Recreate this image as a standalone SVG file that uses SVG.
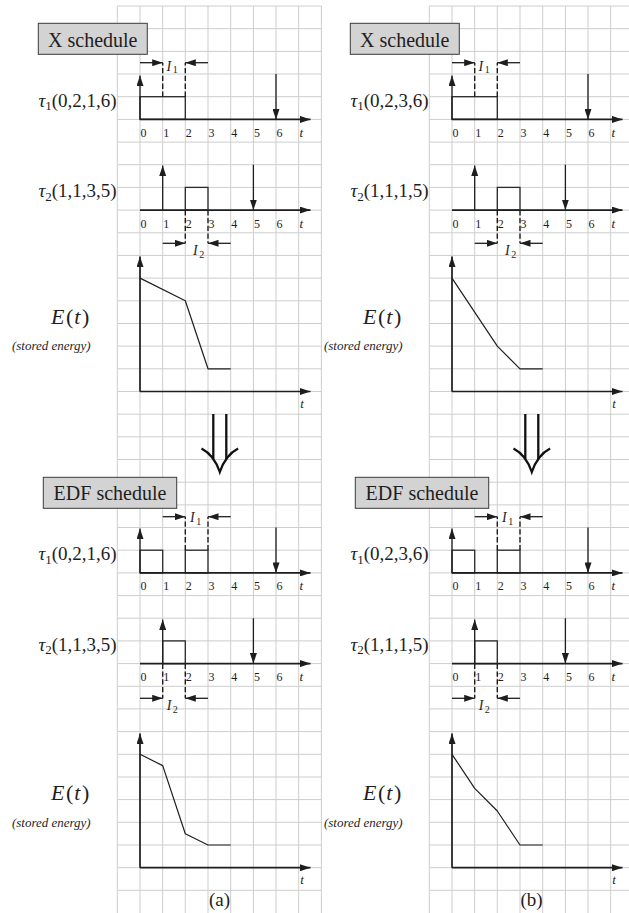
<svg xmlns="http://www.w3.org/2000/svg" width="629" height="913" viewBox="0 0 629 913">
<style>
  .grid { stroke: #cdcdcd; stroke-width: 1; fill: none; }
  .ax { stroke: #1e1e1e; stroke-width: 1.7; fill: none; }
  .ar { stroke: #1e1e1e; stroke-width: 1.3; fill: none; }
  .job { stroke: #2a2a2a; stroke-width: 1.3; fill: none; }
  .dash { stroke: #1e1e1e; stroke-width: 1.4; fill: none; stroke-dasharray: 5.3 2.5; }
  .curve { stroke: #1e1e1e; stroke-width: 1.2; fill: none; stroke-linejoin: round; }
  .box { fill: #d3d3d3; stroke: #3a3a3a; stroke-width: 1; }
  .dbl { stroke: #111; stroke-width: 2.3; fill: none; }
  text { font-family: "Liberation Serif", "Times New Roman", serif; fill: #1e1e1e; }
  .title { font-size: 20px; }
  .lab { font-size: 19px; }
  .sub { font-size: 13px; }
  .num { font-size: 12px; }
  .tt { font-size: 13px; font-style: italic; }
  .ilab { font-size: 14px; font-style: italic; }
  .isub { font-size: 10px; font-style: normal; }
  .elab { font-size: 22px; }
  .it { font-style: italic; }
  .se { font-size: 13px; font-style: italic; }
  .cap { font-size: 19px; }
</style>
<defs>
  <marker id="ah" markerUnits="userSpaceOnUse" markerWidth="11" markerHeight="7" refX="10.5" refY="3.5" orient="auto">
    <path d="M0,0 L10.5,3.5 L0,7 Z" fill="#1e1e1e"/>
  </marker>
</defs>
<rect x="0" y="0" width="629" height="913" fill="#ffffff"/>

<g id="grid-a" class="grid">
  <path d="M117.3,6 V913 M140,6 V913 M162.7,6 V913 M185.3,6 V913 M208,6 V913 M230.7,6 V913 M253.4,6 V913 M276,6 V913 M298.7,6 V913 M321.4,6 V913"/>
  <path d="M117.3,6 H321.4 M117.3,28.7 H321.4 M117.3,51.4 H321.4 M117.3,74 H321.4 M117.3,96.7 H321.4 M117.3,119.4 H321.4 M117.3,142.1 H321.4 M117.3,164.7 H321.4 M117.3,187.4 H321.4 M117.3,210.1 H321.4 M117.3,232.8 H321.4 M117.3,255.4 H321.4 M117.3,278.1 H321.4 M117.3,300.8 H321.4 M117.3,323.5 H321.4 M117.3,346.1 H321.4 M117.3,368.8 H321.4 M117.3,391.5 H321.4 M117.3,414.2 H321.4 M117.3,436.8 H321.4 M117.3,459.5 H321.4 M117.3,482.2 H321.4 M117.3,504.9 H321.4 M117.3,527.5 H321.4 M117.3,550.2 H321.4 M117.3,572.9 H321.4 M117.3,595.6 H321.4 M117.3,618.2 H321.4 M117.3,640.9 H321.4 M117.3,663.6 H321.4 M117.3,686.3 H321.4 M117.3,708.9 H321.4 M117.3,731.6 H321.4 M117.3,754.3 H321.4 M117.3,777 H321.4 M117.3,799.6 H321.4 M117.3,822.3 H321.4 M117.3,845 H321.4 M117.3,867.7 H321.4 M117.3,890.3 H321.4"/>
</g>
<g id="grid-b" class="grid">
  <path d="M429.3,6 V913 M452,6 V913 M474.7,6 V913 M497.3,6 V913 M520,6 V913 M542.7,6 V913 M565.4,6 V913 M588,6 V913 M610.7,6 V913"/>
  <path d="M429.3,6 H629 M429.3,28.7 H629 M429.3,51.4 H629 M429.3,74 H629 M429.3,96.7 H629 M429.3,119.4 H629 M429.3,142.1 H629 M429.3,164.7 H629 M429.3,187.4 H629 M429.3,210.1 H629 M429.3,232.8 H629 M429.3,255.4 H629 M429.3,278.1 H629 M429.3,300.8 H629 M429.3,323.5 H629 M429.3,346.1 H629 M429.3,368.8 H629 M429.3,391.5 H629 M429.3,414.2 H629 M429.3,436.8 H629 M429.3,459.5 H629 M429.3,482.2 H629 M429.3,504.9 H629 M429.3,527.5 H629 M429.3,550.2 H629 M429.3,572.9 H629 M429.3,595.6 H629 M429.3,618.2 H629 M429.3,640.9 H629 M429.3,663.6 H629 M429.3,686.3 H629 M429.3,708.9 H629 M429.3,731.6 H629 M429.3,754.3 H629 M429.3,777 H629 M429.3,799.6 H629 M429.3,822.3 H629 M429.3,845 H629 M429.3,867.7 H629 M429.3,890.3 H629"/>
</g>

<!-- Panel (a) -->
<g id="panel-a">
  <g id="a-x-label">
    <rect class="box" x="38.3" y="23.3" width="109" height="31"/>
    <text class="title" x="92.8" y="46.5" text-anchor="middle">X schedule</text>
  </g>
  <g id="a-x-tau1">
    <text class="lab" x="116.7" y="106.7" text-anchor="end"><tspan class="it">τ</tspan><tspan class="sub" dy="3.5">1</tspan><tspan dy="-3.5">(0,2,1,6)</tspan></text>
    <rect class="job" x="140" y="96.7" width="45.3" height="22.7"/>
    <path class="dash" d="M162.7,96.7 V62.7 M185.3,96.7 V62.7"/>
    <path class="ar" d="M140,62.7 H162.7" marker-end="url(#ah)"/>
    <path class="ar" d="M208,62.7 H185.3" marker-end="url(#ah)"/>
    <text class="ilab" x="166.5" y="70.7">I<tspan class="isub" dx="1.5" dy="2.5">1</tspan></text>
    <path class="ax" d="M140,119.4 H310.5" marker-end="url(#ah)"/>
    <path class="ar" d="M140,119.4 V75.5" marker-end="url(#ah)"/>
    <path class="ar" d="M276,74 V119.4" marker-end="url(#ah)"/>
    <text class="num" x="143.5 166.2 188.8 211.5 234.2 256.9 279.5" y="136.8" text-anchor="middle">0123456</text>
    <text class="tt" x="301.2" y="136.8" text-anchor="middle">t</text>
  </g>
  <g id="a-x-tau2">
    <text class="lab" x="116.7" y="197" text-anchor="end"><tspan class="it">τ</tspan><tspan class="sub" dy="3.5">2</tspan><tspan dy="-3.5">(1,1,3,5)</tspan></text>
    <rect class="job" x="185.3" y="187.4" width="22.7" height="22.7"/>
    <path class="dash" d="M185.3,210.1 V243.3 M208,210.1 V243.3"/>
    <path class="ar" d="M162.7,243.3 H185.3" marker-end="url(#ah)"/>
    <path class="ar" d="M230.7,243.3 H208" marker-end="url(#ah)"/>
    <text class="ilab" x="193" y="255">I<tspan class="isub" dx="1.5" dy="2.5">2</tspan></text>
    <path class="ax" d="M140,210.1 H310.5" marker-end="url(#ah)"/>
    <path class="ar" d="M162.7,210.1 V165.5" marker-end="url(#ah)"/>
    <path class="ar" d="M253.4,164.7 V210.1" marker-end="url(#ah)"/>
    <text class="num" x="143.5 166.2 188.8 211.5 234.2 256.9 279.5" y="227.5" text-anchor="middle">0123456</text>
    <text class="tt" x="301.2" y="227.5" text-anchor="middle">t</text>
  </g>
  <g id="a-x-energy">
    <text class="elab" x="89.3" y="324" text-anchor="end"><tspan class="it">E</tspan><tspan dx="1.5">(</tspan><tspan class="it" dx="1">t</tspan><tspan dx="1.5">)</tspan></text>
    <text class="se" x="90.7" y="350" text-anchor="end">(stored energy)</text>
    <path class="ax" d="M140,391.5 V256.5" marker-end="url(#ah)"/>
    <path class="ax" d="M140,391.5 H310.5" marker-end="url(#ah)"/>
    <polyline class="curve" points="140,278.1 185.3,300.8 208,368.8 230.7,368.8"/>
    <text class="tt" x="300.3" y="408">t</text>
  </g>
  <g id="a-edf-label">
    <rect class="box" x="43.3" y="477.3" width="133.4" height="31"/>
    <text class="title" x="110" y="500" text-anchor="middle">EDF schedule</text>
  </g>
  <g id="a-edf-tau1">
    <text class="lab" x="116.7" y="560" text-anchor="end"><tspan class="it">τ</tspan><tspan class="sub" dy="3.5">1</tspan><tspan dy="-3.5">(0,2,1,6)</tspan></text>
    <rect class="job" x="140" y="550.2" width="22.7" height="22.7"/>
    <rect class="job" x="185.3" y="550.2" width="22.7" height="22.7"/>
    <path class="dash" d="M185.3,550.2 V516.7 M208,550.2 V516.7"/>
    <path class="ar" d="M162.7,516.7 H185.3" marker-end="url(#ah)"/>
    <path class="ar" d="M230.7,516.7 H208" marker-end="url(#ah)"/>
    <text class="ilab" x="190" y="522">I<tspan class="isub" dx="1.5" dy="2.5">1</tspan></text>
    <path class="ax" d="M140,572.9 H310.5" marker-end="url(#ah)"/>
    <path class="ar" d="M140,572.9 V528.5" marker-end="url(#ah)"/>
    <path class="ar" d="M276,527.5 V572.9" marker-end="url(#ah)"/>
    <text class="num" x="143.5 166.2 188.8 211.5 234.2 256.9 279.5" y="590.3" text-anchor="middle">0123456</text>
    <text class="tt" x="301.2" y="590.3" text-anchor="middle">t</text>
  </g>
  <g id="a-edf-tau2">
    <text class="lab" x="116.7" y="650.6" text-anchor="end"><tspan class="it">τ</tspan><tspan class="sub" dy="3.5">2</tspan><tspan dy="-3.5">(1,1,3,5)</tspan></text>
    <rect class="job" x="162.7" y="640.9" width="22.6" height="22.7"/>
    <path class="dash" d="M162.7,663.6 V698.3 M185.3,663.6 V698.3"/>
    <path class="ar" d="M140,698.3 H162.7" marker-end="url(#ah)"/>
    <path class="ar" d="M208,698.3 H185.3" marker-end="url(#ah)"/>
    <text class="ilab" x="166.7" y="710">I<tspan class="isub" dx="1.5" dy="2.5">2</tspan></text>
    <path class="ax" d="M140,663.6 H310.5" marker-end="url(#ah)"/>
    <path class="ar" d="M162.7,663.6 V619.5" marker-end="url(#ah)"/>
    <path class="ar" d="M253.4,618.2 V663.6" marker-end="url(#ah)"/>
    <text class="num" x="143.5 166.2 188.8 211.5 234.2 256.9 279.5" y="681" text-anchor="middle">0123456</text>
    <text class="tt" x="301.2" y="681" text-anchor="middle">t</text>
  </g>
  <g id="a-edf-energy">
    <text class="elab" x="89.3" y="800" text-anchor="end"><tspan class="it">E</tspan><tspan dx="1.5">(</tspan><tspan class="it" dx="1">t</tspan><tspan dx="1.5">)</tspan></text>
    <text class="se" x="90.7" y="827" text-anchor="end">(stored energy)</text>
    <path class="ax" d="M140,867.7 V733.5" marker-end="url(#ah)"/>
    <path class="ax" d="M140,867.7 H310.5" marker-end="url(#ah)"/>
    <polyline class="curve" points="140,754.3 162.7,765.6 185.3,833.7 208,845 230.7,845"/>
    <text class="tt" x="300.3" y="884">t</text>
  </g>
  <g id="a-caption">
    <text class="cap" x="219.5" y="906" text-anchor="middle">(a)</text>
  </g>
</g>

<!-- Panel (b) -->
<g id="panel-b" transform="translate(312,0)">
  <g id="b-x-label">
    <rect class="box" x="38.3" y="23.3" width="109" height="31"/>
    <text class="title" x="92.8" y="46.5" text-anchor="middle">X schedule</text>
  </g>
  <g id="b-x-tau1">
    <text class="lab" x="116.7" y="106.7" text-anchor="end"><tspan class="it">τ</tspan><tspan class="sub" dy="3.5">1</tspan><tspan dy="-3.5">(0,2,3,6)</tspan></text>
    <rect class="job" x="140" y="96.7" width="45.3" height="22.7"/>
    <path class="dash" d="M162.7,96.7 V62.7 M185.3,96.7 V62.7"/>
    <path class="ar" d="M140,62.7 H162.7" marker-end="url(#ah)"/>
    <path class="ar" d="M208,62.7 H185.3" marker-end="url(#ah)"/>
    <text class="ilab" x="166.5" y="70.7">I<tspan class="isub" dx="1.5" dy="2.5">1</tspan></text>
    <path class="ax" d="M140,119.4 H310.5" marker-end="url(#ah)"/>
    <path class="ar" d="M140,119.4 V75.5" marker-end="url(#ah)"/>
    <path class="ar" d="M276,74 V119.4" marker-end="url(#ah)"/>
    <text class="num" x="143.5 166.2 188.8 211.5 234.2 256.9 279.5" y="136.8" text-anchor="middle">0123456</text>
    <text class="tt" x="301.2" y="136.8" text-anchor="middle">t</text>
  </g>
  <g id="b-x-tau2">
    <text class="lab" x="116.7" y="197" text-anchor="end"><tspan class="it">τ</tspan><tspan class="sub" dy="3.5">2</tspan><tspan dy="-3.5">(1,1,1,5)</tspan></text>
    <rect class="job" x="185.3" y="187.4" width="22.7" height="22.7"/>
    <path class="dash" d="M185.3,210.1 V243.3 M208,210.1 V243.3"/>
    <path class="ar" d="M162.7,243.3 H185.3" marker-end="url(#ah)"/>
    <path class="ar" d="M230.7,243.3 H208" marker-end="url(#ah)"/>
    <text class="ilab" x="193" y="255">I<tspan class="isub" dx="1.5" dy="2.5">2</tspan></text>
    <path class="ax" d="M140,210.1 H310.5" marker-end="url(#ah)"/>
    <path class="ar" d="M162.7,210.1 V165.5" marker-end="url(#ah)"/>
    <path class="ar" d="M253.4,164.7 V210.1" marker-end="url(#ah)"/>
    <text class="num" x="143.5 166.2 188.8 211.5 234.2 256.9 279.5" y="227.5" text-anchor="middle">0123456</text>
    <text class="tt" x="301.2" y="227.5" text-anchor="middle">t</text>
  </g>
  <g id="b-x-energy">
    <text class="elab" x="89.3" y="324" text-anchor="end"><tspan class="it">E</tspan><tspan dx="1.5">(</tspan><tspan class="it" dx="1">t</tspan><tspan dx="1.5">)</tspan></text>
    <text class="se" x="90.7" y="350" text-anchor="end">(stored energy)</text>
    <path class="ax" d="M140,391.5 V256.5" marker-end="url(#ah)"/>
    <path class="ax" d="M140,391.5 H310.5" marker-end="url(#ah)"/>
    <polyline class="curve" points="140,278.1 185.3,346.1 208,368.8 230.7,368.8"/>
    <text class="tt" x="300.3" y="408">t</text>
  </g>
  <g id="b-edf-label">
    <rect class="box" x="43.3" y="477.3" width="133.4" height="31"/>
    <text class="title" x="110" y="500" text-anchor="middle">EDF schedule</text>
  </g>
  <g id="b-edf-tau1">
    <text class="lab" x="116.7" y="560" text-anchor="end"><tspan class="it">τ</tspan><tspan class="sub" dy="3.5">1</tspan><tspan dy="-3.5">(0,2,3,6)</tspan></text>
    <rect class="job" x="140" y="550.2" width="22.7" height="22.7"/>
    <rect class="job" x="185.3" y="550.2" width="22.7" height="22.7"/>
    <path class="dash" d="M185.3,550.2 V516.7 M208,550.2 V516.7"/>
    <path class="ar" d="M162.7,516.7 H185.3" marker-end="url(#ah)"/>
    <path class="ar" d="M230.7,516.7 H208" marker-end="url(#ah)"/>
    <text class="ilab" x="190" y="522">I<tspan class="isub" dx="1.5" dy="2.5">1</tspan></text>
    <path class="ax" d="M140,572.9 H310.5" marker-end="url(#ah)"/>
    <path class="ar" d="M140,572.9 V528.5" marker-end="url(#ah)"/>
    <path class="ar" d="M276,527.5 V572.9" marker-end="url(#ah)"/>
    <text class="num" x="143.5 166.2 188.8 211.5 234.2 256.9 279.5" y="590.3" text-anchor="middle">0123456</text>
    <text class="tt" x="301.2" y="590.3" text-anchor="middle">t</text>
  </g>
  <g id="b-edf-tau2">
    <text class="lab" x="116.7" y="650.6" text-anchor="end"><tspan class="it">τ</tspan><tspan class="sub" dy="3.5">2</tspan><tspan dy="-3.5">(1,1,1,5)</tspan></text>
    <rect class="job" x="162.7" y="640.9" width="22.6" height="22.7"/>
    <path class="dash" d="M162.7,663.6 V698.3 M185.3,663.6 V698.3"/>
    <path class="ar" d="M140,698.3 H162.7" marker-end="url(#ah)"/>
    <path class="ar" d="M208,698.3 H185.3" marker-end="url(#ah)"/>
    <text class="ilab" x="166.7" y="710">I<tspan class="isub" dx="1.5" dy="2.5">2</tspan></text>
    <path class="ax" d="M140,663.6 H310.5" marker-end="url(#ah)"/>
    <path class="ar" d="M162.7,663.6 V619.5" marker-end="url(#ah)"/>
    <path class="ar" d="M253.4,618.2 V663.6" marker-end="url(#ah)"/>
    <text class="num" x="143.5 166.2 188.8 211.5 234.2 256.9 279.5" y="681" text-anchor="middle">0123456</text>
    <text class="tt" x="301.2" y="681" text-anchor="middle">t</text>
  </g>
  <g id="b-edf-energy">
    <text class="elab" x="89.3" y="800" text-anchor="end"><tspan class="it">E</tspan><tspan dx="1.5">(</tspan><tspan class="it" dx="1">t</tspan><tspan dx="1.5">)</tspan></text>
    <text class="se" x="90.7" y="827" text-anchor="end">(stored energy)</text>
    <path class="ax" d="M140,867.7 V733.5" marker-end="url(#ah)"/>
    <path class="ax" d="M140,867.7 H310.5" marker-end="url(#ah)"/>
    <polyline class="curve" points="140,754.3 162.7,788.3 185.3,811 208,845 230.7,845"/>
    <text class="tt" x="300.3" y="884">t</text>
  </g>
  <g id="b-caption">
    <text class="cap" x="219.5" y="906" text-anchor="middle">(b)</text>
  </g>
</g>

<g id="connectors">
  <g id="a-x-to-edf">
    <path class="dbl" d="M213.3,414 V459 M226.3,414 V459"/>
    <path class="dbl" d="M201.5,448.5 Q214,455 219.8,472 Q225.6,455 238.1,448.5"/>
  </g>
  <g id="b-x-to-edf" transform="translate(312,0)">
    <path class="dbl" d="M213.3,414 V459 M226.3,414 V459"/>
    <path class="dbl" d="M201.5,448.5 Q214,455 219.8,472 Q225.6,455 238.1,448.5"/>
  </g>
</g>
</svg>
